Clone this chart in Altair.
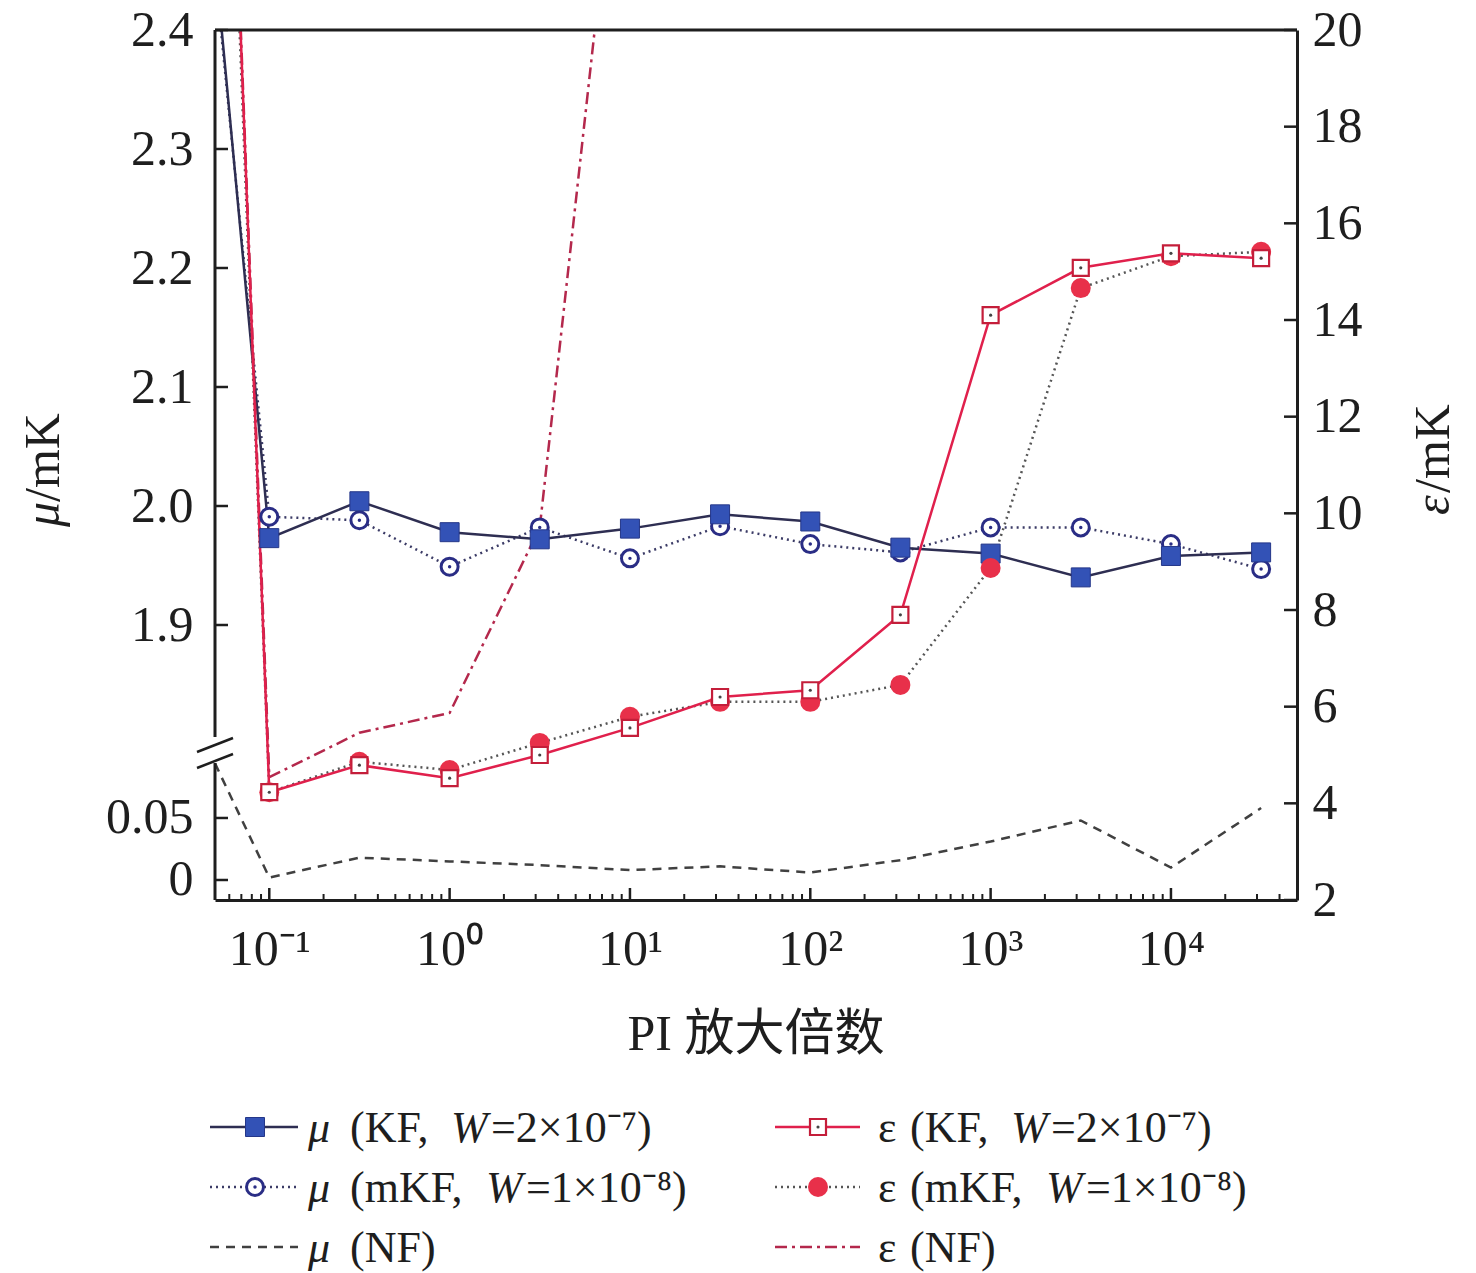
import altair as alt
import pandas as pd

# ---------------- data ----------------
X_VALS = [0.05, 0.1, 0.316, 1, 3.16, 10, 31.6, 100, 316, 1000, 3162, 10000, 31623]
MU_KF = [2.46, 1.973, 2.004, 1.978, 1.972, 1.981, 1.993, 1.987, 1.965, 1.960, 1.940, 1.958, 1.961]
MU_MKF = [2.45, 1.991, 1.988, 1.949, 1.982, 1.956, 1.983, 1.968, 1.961, 1.982, 1.982, 1.968, 1.947]
MU_NF = [0.094, 0.002, 0.018, 0.015, 0.012, 0.008, 0.011, 0.006, 0.016, 0.031, 0.048, 0.010, 0.058]
EPS_KF = [34.0, 4.23, 4.79, 4.52, 5.00, 5.56, 6.20, 6.34, 7.90, 14.10, 15.08, 15.38, 15.28]
EPS_MKF = [33.0, 4.23, 4.86, 4.69, 5.25, 5.79, 6.10, 6.10, 6.45, 8.87, 14.66, 15.32, 15.41]
EPS_NF_X = [0.05, 0.1, 0.316, 1, 3.16, 10]
EPS_NF = [34.0, 4.54, 5.46, 5.87, 9.70, 26.6]

MU_TICKS = [0, 0.05, 1.9, 2.0, 2.1, 2.2, 2.3, 2.4]
EPS_TICKS = [2, 4, 6, 8, 10, 12, 14, 16, 18, 20]
X_MAJOR = [0.1, 1, 10, 100, 1000, 10000]
X_MINOR = [0.06, 0.07, 0.08, 0.09,
           0.2, 0.3, 0.4, 0.5, 0.6, 0.7, 0.8, 0.9,
           2, 3, 4, 5, 6, 7, 8, 9,
           20, 30, 40, 50, 60, 70, 80, 90,
           200, 300, 400, 500, 600, 700, 800, 900,
           2000, 3000, 4000, 5000, 6000, 7000, 8000, 9000,
           20000, 30000, 40000]
X_LABELS = ["10⁻¹", "10⁰", "10¹", "10²", "10³", "10⁴"]

# ---------------- style ----------------
W, H = 1082, 870
FONT = "Liberation Serif, Noto Sans CJK SC"
INK = "#1e1e1e"
BLUE_FILL = "#3352b6"
BLUE_EDGE = "#253789"
NAVY = "#2a2d85"
MU_LINE = "#2e2e52"
MU_DOT = "#3b3b66"
RED_LINE = "#e0204c"
RED_EDGE = "#c41e3a"
RED_FILL = "#e8304a"
GRAY_DOT = "#555555"
NF_DASH = "#404040"
EPS_NF_C = "#b4284c"

DOT = [2, 4]
DASH = [9, 7]
DASHDOT = [12, 5, 3, 5]

xs = alt.Scale(type="log", domain=[0.05, 50000], nice=False)
mu_scale = alt.Scale(domain=[-0.01613, 0.094, 1.8, 2.4], range=[870, 733.4, 714, 0],
                     nice=False, zero=False)
eps_scale = alt.Scale(domain=[2, 20], nice=False, zero=False)

x_axis = alt.Axis(values=X_MAJOR,
                  labelExpr="['10⁻¹','10⁰','10¹','10²','10³','10⁴'][round(log(datum.value)/LN10)+1]",
                  ticks=False, grid=False, domain=True, domainColor=INK, domainWidth=3,
                  labelFont=FONT, labelFontSize=50, labelColor=INK, labelPadding=24,
                  labelFlush=False, labelOverlap=False, title=None)
left_axis = alt.Axis(orient="left", values=MU_TICKS,
                     labelExpr="datum.value == 0 ? '0' : (datum.value < 0.1 ? '0.05' : format(datum.value, '.1f'))",
                     ticks=False, domain=False, grid=False, labelFont=FONT, labelFontSize=50,
                     labelColor=INK, labelPadding=22, labelFlush=False, labelOverlap=False, title=None)
right_axis = alt.Axis(orient="right", values=EPS_TICKS, format="d", ticks=False, domain=True,
                      domainColor=INK, domainWidth=3, grid=False, labelFont=FONT,
                      labelFontSize=50, labelColor=INK, labelPadding=15, labelFlush=False,
                      labelOverlap=False, title=None)

X_ENC = alt.X("x:Q", scale=xs, axis=x_axis)

# ---------------- tables ----------------
mu_df = pd.concat([
    pd.DataFrame({"x": X_VALS, "mu": MU_KF, "s": "KF"}),
    pd.DataFrame({"x": X_VALS, "mu": MU_MKF, "s": "mKF"}),
    pd.DataFrame({"x": X_VALS, "mu": MU_NF, "s": "NF"}),
])
eps_df = pd.concat([
    pd.DataFrame({"x": X_VALS, "eps": EPS_KF, "s": "KF"}),
    pd.DataFrame({"x": X_VALS, "eps": EPS_MKF, "s": "mKF"}),
    pd.DataFrame({"x": EPS_NF_X, "eps": EPS_NF, "s": "NF"}),
])
mu_pts = mu_df[mu_df["x"] > 0.06]
eps_pts = eps_df[eps_df["x"] > 0.06]

# ---------------- group A: mu lines + left axis ----------------
Y_MU = alt.Y("mu:Q", scale=mu_scale, axis=left_axis)
Y_MU_NA = alt.Y("mu:Q", scale=mu_scale, axis=None)


def mu_line(s, **kw):
    return (alt.Chart(mu_df).transform_filter(alt.datum.s == s)
            .mark_line(clip=True, strokeWidth=2.5, **kw)
            .encode(x=X_ENC, y=Y_MU))


mu_tick = (alt.Chart(pd.DataFrame({"mu": MU_TICKS}))
           .mark_rule(color=INK, strokeWidth=2.5)
           .encode(y=Y_MU, x=alt.value(0), x2=alt.value(13)))

group_a = alt.layer(
    mu_line("NF", color=NF_DASH, strokeDash=DASH),
    mu_line("mKF", color=MU_DOT, strokeDash=DOT),
    mu_line("KF", color=MU_LINE),
    mu_tick,
)

# ---------------- group B: eps lines + right axis ----------------
Y_EPS = alt.Y("eps:Q", scale=eps_scale, axis=right_axis)
Y_EPS_NA = alt.Y("eps:Q", scale=eps_scale, axis=None)


def eps_line(s, **kw):
    return (alt.Chart(eps_df).transform_filter(alt.datum.s == s)
            .mark_line(clip=True, strokeWidth=2.5, **kw)
            .encode(x=X_ENC, y=Y_EPS))


eps_tick = (alt.Chart(pd.DataFrame({"eps": EPS_TICKS}))
            .mark_rule(color=INK, strokeWidth=2.5)
            .encode(y=Y_EPS, x=alt.value(W - 13), x2=alt.value(W)))

group_b = alt.layer(
    eps_line("NF", color=EPS_NF_C, strokeDash=DASHDOT),
    eps_line("mKF", color=GRAY_DOT, strokeDash=DOT),
    eps_line("KF", color=RED_LINE),
    eps_tick,
)


# ---------------- markers ----------------
def m_mu_kf(data, y):
    return (alt.Chart(data).mark_point(shape="square", filled=True, fill=BLUE_FILL,
                                       stroke=BLUE_EDGE, strokeWidth=1, size=361, opacity=1)
            .encode(x=X_ENC, y=y))


def m_mu_mkf(data, y):
    ring = (alt.Chart(data).mark_point(shape="circle", filled=True, fill="white",
                                       stroke=NAVY, strokeWidth=3, size=289, opacity=1)
            .encode(x=X_ENC, y=y))
    dot = (alt.Chart(data).mark_point(shape="circle", filled=True, fill=NAVY,
                                      strokeWidth=0, size=12, opacity=1)
           .encode(x=X_ENC, y=y))
    return [ring, dot]


def m_eps_kf(data, y):
    box = (alt.Chart(data).mark_point(shape="square", filled=True, fill="white",
                                      stroke=RED_EDGE, strokeWidth=2.2, size=256, opacity=1)
           .encode(x=X_ENC, y=y))
    dot = (alt.Chart(data).mark_point(shape="circle", filled=True, fill="#444444",
                                      strokeWidth=0, size=10, opacity=1)
           .encode(x=X_ENC, y=y))
    return [box, dot]


def m_eps_mkf(data, y):
    return (alt.Chart(data).mark_point(shape="circle", filled=True, fill=RED_FILL,
                                       strokeWidth=0, size=400, opacity=1)
            .encode(x=X_ENC, y=y))


group_c = alt.layer(
    *m_mu_mkf(mu_pts[mu_pts["s"] == "mKF"], Y_MU_NA),
    m_mu_kf(mu_pts[mu_pts["s"] == "KF"], Y_MU_NA),
)


# ---------------- legend (placed below the plot, in eps/x units) ----------------
def lx(px):
    return 0.05 * 10 ** ((px - 215) * 6 / 1082)


def ly(py):
    return 2 + (900 - py) * 18 / 870


ROWS = [1127, 1187, 1247]
LCOL = dict(l0=210, l1=298, m=255)
RCOL = dict(l0=775, l1=860, m=818)


def leg_line(col, row, **kw):
    d = pd.DataFrame({"x": [lx(col["l0"])], "x2": [lx(col["l1"])], "eps": [ly(ROWS[row])]})
    return (alt.Chart(d).mark_rule(strokeWidth=2.5, **kw)
            .encode(x=X_ENC, x2="x2:Q", y=Y_EPS_NA))


def leg_pt(col, row):
    return pd.DataFrame({"x": [lx(col["m"])], "eps": [ly(ROWS[row])]})


SEGS = [
    (0, [("μ", 308, True), ("(KF,", 350, False), ("W", 451, True), ("=2×10⁻⁷)", 491, False)]),
    (1, [("μ", 308, True), ("(mKF,", 350, False), ("W", 486, True), ("=1×10⁻⁸)", 526, False)]),
    (2, [("μ", 308, True), ("(NF)", 350, False)]),
    (0, [("ε", 878, False), ("(KF,", 910, False), ("W", 1011, True), ("=2×10⁻⁷)", 1051, False)]),
    (1, [("ε", 878, False), ("(mKF,", 910, False), ("W", 1046, True), ("=1×10⁻⁸)", 1086, False)]),
    (2, [("ε", 878, False), ("(NF)", 910, False)]),
]
seg_rows = []
for row, parts in SEGS:
    for t, px, it in parts:
        seg_rows.append({"x": lx(px), "eps": ly(ROWS[row] + 15), "t": t, "it": it})
seg_df = pd.DataFrame(seg_rows)


def leg_text(italic):
    d = seg_df[seg_df["it"] == italic]
    kw = dict(fontStyle="italic") if italic else {}
    return (alt.Chart(d).mark_text(align="left", baseline="alphabetic", font=FONT,
                                   fontSize=44, color=INK, **kw)
            .encode(x=X_ENC, y=Y_EPS_NA, text="t:N"))


group_d = alt.layer(
    m_eps_mkf(eps_pts[eps_pts["s"] == "mKF"], Y_EPS_NA),
    *m_eps_kf(eps_pts[eps_pts["s"] == "KF"], Y_EPS_NA),
    leg_line(LCOL, 0, color=MU_LINE),
    leg_line(LCOL, 1, color=MU_DOT, strokeDash=DOT),
    leg_line(LCOL, 2, color=NF_DASH, strokeDash=DASH),
    leg_line(RCOL, 0, color=RED_LINE),
    leg_line(RCOL, 1, color=GRAY_DOT, strokeDash=DOT),
    leg_line(RCOL, 2, color=EPS_NF_C, strokeDash=DASHDOT),
    m_mu_kf(leg_pt(LCOL, 0), Y_EPS_NA),
    *m_mu_mkf(leg_pt(LCOL, 1), Y_EPS_NA),
    *m_eps_kf(leg_pt(RCOL, 0), Y_EPS_NA),
    m_eps_mkf(leg_pt(RCOL, 1), Y_EPS_NA),
    leg_text(False),
    leg_text(True),
)

# ---------------- group E: frame, ticks, axis break, titles ----------------
one = pd.DataFrame({"a": [0]})


def seg(x0, y0, x1=None, y1=None, width=3):
    enc = dict(x=alt.value(x0), y=alt.value(y0))
    if x1 is not None:
        enc["x2"] = alt.value(x1)
    if y1 is not None:
        enc["y2"] = alt.value(y1)
    return alt.Chart(one).mark_rule(color=INK, strokeWidth=width).encode(**enc)


xmaj = (alt.Chart(pd.DataFrame({"x": X_MAJOR})).mark_rule(color=INK, strokeWidth=2.5)
        .encode(x=X_ENC, y=alt.value(H), y2=alt.value(H - 12)))
xmin = (alt.Chart(pd.DataFrame({"x": X_MINOR})).mark_rule(color=INK, strokeWidth=2)
        .encode(x=X_ENC, y=alt.value(H), y2=alt.value(H - 6)))


def title_text(t, x, y, italic=False, angle=0, align="left", size=50):
    kw = dict(fontStyle="italic") if italic else {}
    mk = dict(text=t, font=FONT, fontSize=size, color=INK, align=align, baseline="alphabetic", **kw)
    if angle:
        mk["angle"] = angle
    return alt.Chart(one).mark_text(**mk).encode(x=alt.value(x), y=alt.value(y))


group_e = alt.layer(
    xmaj, xmin,
    seg(0, 0, x1=W),                 # top frame
    seg(0, 0, y1=707),               # left axis, upper part
    seg(0, 733, y1=H),               # left axis, lower part
    seg(-18, 722, x1=18, y1=708, width=2.5),   # break marks
    seg(-18, 738, x1=18, y1=724, width=2.5),
    title_text("μ", -156, 497, italic=True, angle=270),
    title_text("/mK", -156, 472, angle=270),
    title_text("ε", 1234, 485, italic=True, angle=270),
    title_text("/mK", 1234, 463, angle=270),
    title_text("PI 放大倍数", 541, 1020, align="center"),
)

chart = (
    alt.layer(group_a, group_b, group_c, group_d, group_e)
    .resolve_scale(y="independent")
    .properties(width=W, height=H, background="white",
                autosize=alt.AutoSizeParams(type="none"),
                padding={"left": 207, "top": 22, "right": 165, "bottom": 373})
    .configure_view(stroke=None)
)

chart.save("out.html", embed_options={"renderer": "svg", "actions": False})
